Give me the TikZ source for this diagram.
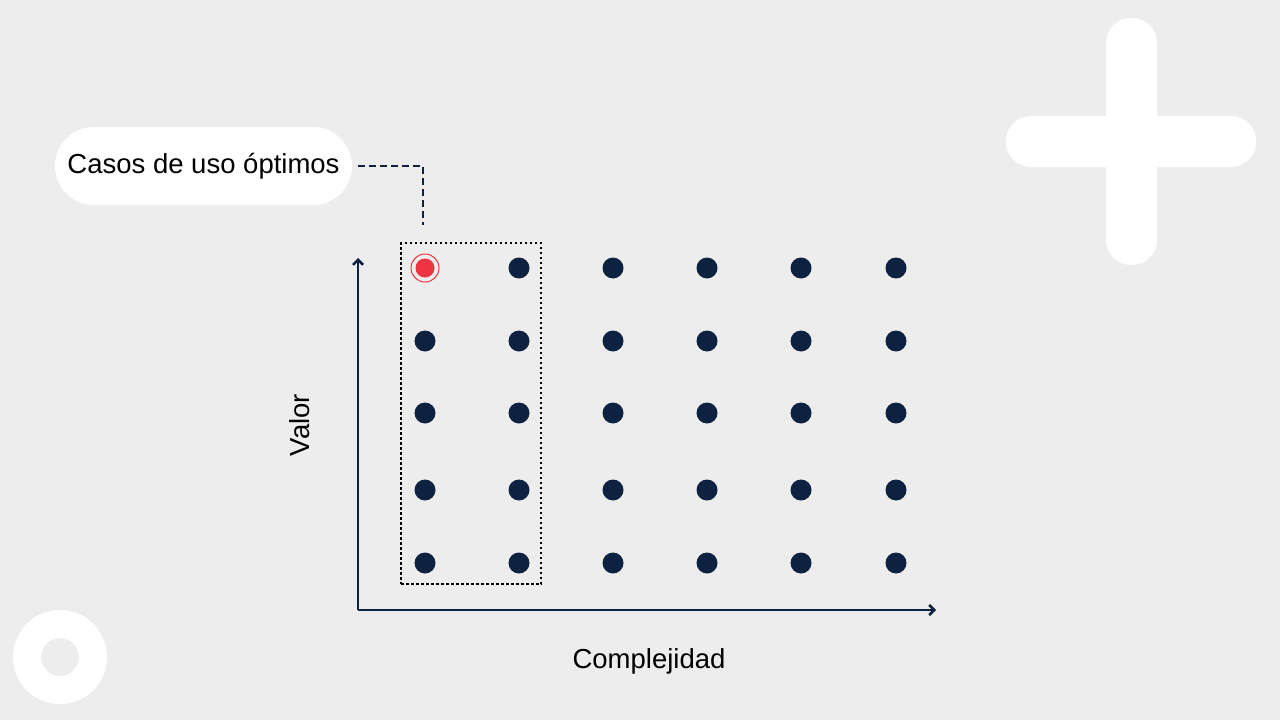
\documentclass[tikz,border=0pt]{standalone}
\usepackage{fontspec}
\setmainfont{Liberation Sans}
\usetikzlibrary{arrows.meta}
\definecolor{bg}{HTML}{EDEDED}
\definecolor{navy}{HTML}{0D2240}
\definecolor{redd}{HTML}{EF3340}
\begin{document}
\begin{tikzpicture}[x=1pt,y=-1pt,
  dot/.style={circle,fill=navy,minimum size=21pt,inner sep=0pt},
  lbl/.style={font=\fontsize{27.5}{32}\selectfont,text=black}]
\fill[bg] (0,0) rectangle (1280,720);
\useasboundingbox (0,0) rectangle (1280,720);
% decorations
\fill[white,rounded corners=25pt] (1106,18) rectangle (1157,265);
\fill[white,rounded corners=25pt] (1006,116) rectangle (1256,167);
\fill[white,even odd rule] (60,657) circle (47) (60,657) circle (19);
% callout
\node[fill=white,rounded corners=39pt,minimum width=297pt,minimum height=78pt,lbl] (call) at (203.5,166) {Casos de uso óptimos};
\coordinate (c1) at (423,225);
\draw[navy,line width=2.5pt,dash pattern=on 7pt off 4pt] (call.east) ++(6,0) -| (c1);
% grid
\foreach \x [count=\i] in {425,519,613,707,801,896}{
  \foreach \y [count=\j] in {268,341,413,490,563}{
    \ifnum\i\j=11\else \node[dot] (d\i\j) at (\x,\y) {};\fi
  }}
\node[circle,fill=redd,minimum size=19pt,inner sep=0pt] (r) at (425,268) {};
\draw[redd,line width=1pt] (r) circle (14);
\node[draw=black,line width=2.5pt,dash pattern=on 2.5pt off 2.5pt,minimum width=140pt,minimum height=341pt,inner sep=0pt] (box) at (471,413.5) {};
% axes
\coordinate (o) at (358,610);
\coordinate (ytop) at (358,258);
\coordinate (xend) at (936,610);
\draw[navy,line width=2.5pt,-{Straight Barb[length=5pt,width=10pt]}] (o) -- (ytop);
\draw[navy,line width=2.5pt,-{Straight Barb[length=5pt,width=10pt]}] (o) -- (xend);
\node[lbl,rotate=90] (vl) at (300,425) {Valor};
\node[lbl] (cl) at (649,661) {Complejidad};
\end{tikzpicture}
\end{document}
